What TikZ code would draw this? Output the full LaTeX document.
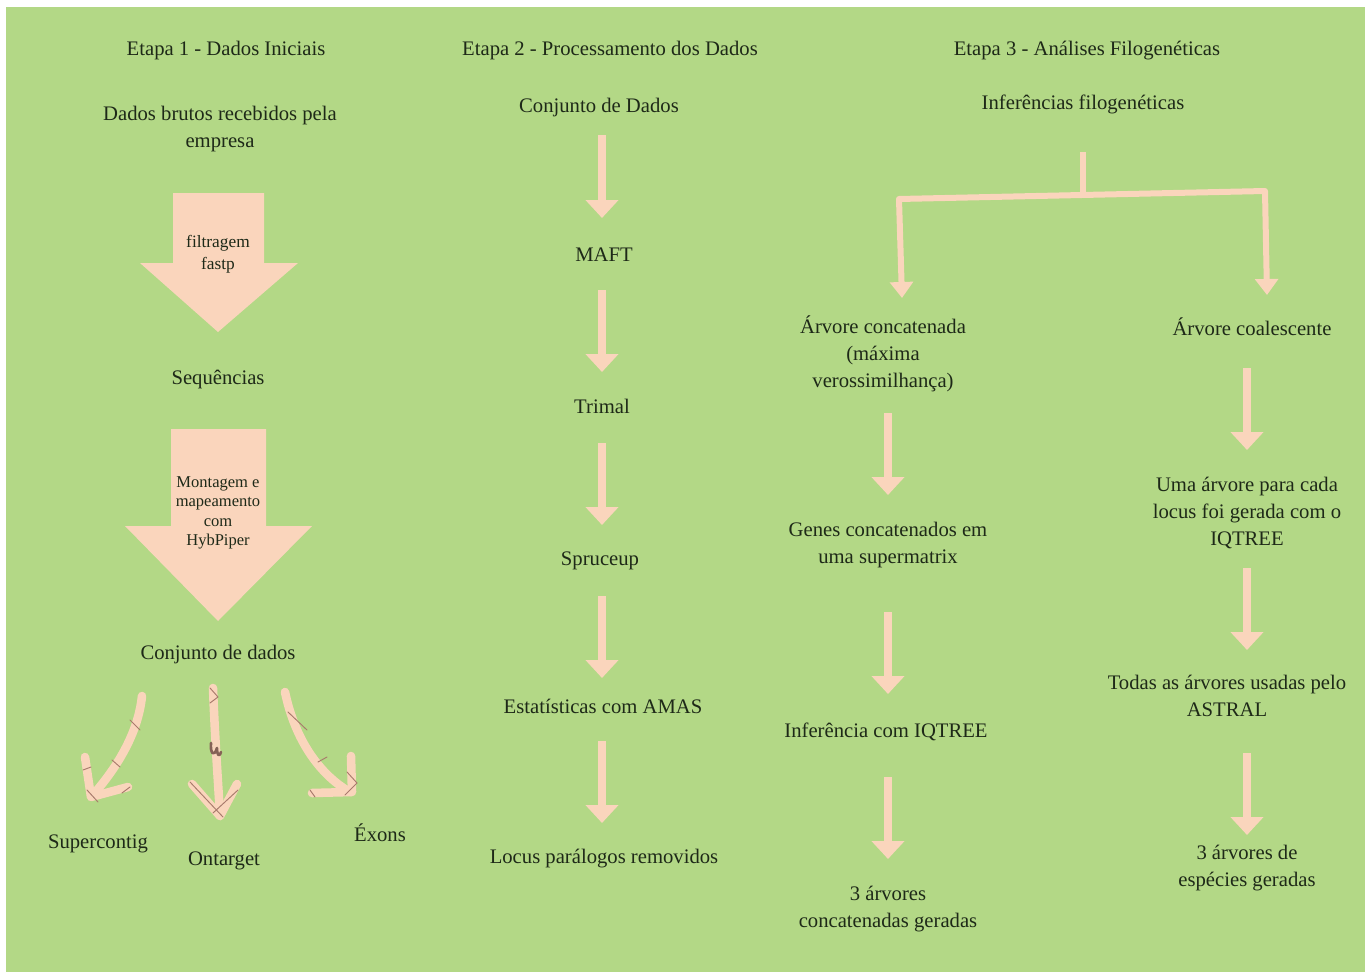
\documentclass[tikz,border=0pt]{standalone}
\usepackage{fontspec}
\setmainfont{Liberation Serif}
\usetikzlibrary{arrows.meta}
\definecolor{bg}{HTML}{B3D886}
\definecolor{peach}{HTML}{FAD5BC}
\definecolor{ink}{HTML}{1E2918}
\definecolor{tickc}{HTML}{A87A6C}
\begin{document}
\begin{tikzpicture}[x=0.75pt,y=-0.75pt,
 txt/.style={font=\fontsize{15.5pt}{20.25pt}\selectfont, text=ink, align=center, inner sep=0pt, yshift=-1.8pt},
 smalltxt/.style={font=\fontsize{13pt}{16.5pt}\selectfont, text=ink, align=center, inner sep=0pt, yshift=-1.5pt},
 tinytxt/.style={font=\fontsize{12.4pt}{14.6pt}\selectfont, text=ink, align=center, inner sep=0pt, yshift=-1.5pt},
 varrow/.style={draw=peach, line width=6pt, -{Triangle[width=24pt,length=13.5pt]}},
 brk/.style={draw=peach, line width=4.5pt, line join=round},
 brkarr/.style={brk, {Triangle[width=17pt,length=12pt]}-{Triangle[width=17pt,length=12pt]}},
 hand/.style={draw=peach, line width=6.4pt, line cap=round, line join=round},
 tickln/.style={draw=tickc, line width=0.7pt, line cap=round},
 block/.style={fill=peach}]
\useasboundingbox (0,0) rectangle (1365,974);
\fill[bg] (6,7) rectangle (1365,972);

% ---------- Column 1 ----------
\node[txt] (t1) at (226,48) {Etapa 1 - Dados Iniciais};
\node[txt] (d1) at (220,127) {Dados brutos recebidos pela\\empresa};
\fill[block] (173,193) -- (264,193) -- (264,263) -- (298,263) -- (218,332) -- (140,263) -- (173,263) -- cycle;
\node[smalltxt] (filt) at (218,252) {filtragem\\fastp};
\node[txt] (seq) at (218,377) {Sequências};
\fill[block] (171,429) -- (266,429) -- (266,526) -- (312,526) -- (218,621) -- (125,526) -- (171,526) -- cycle;
\node[tinytxt] (mont) at (218,511) {Montagem e\\mapeamento\\com\\HybPiper};
\node[txt] (cd) at (218,652) {Conjunto de dados};
\node[txt] (sc) at (98,841) {Supercontig};
\node[txt] (ot) at (224,858) {Ontarget};
\node[txt] (ex) at (380,830) {Éxons};

% hand drawn arrows
\draw[hand] (142,696) .. controls (138,735) and (115,770) .. (92,796);
\draw[hand] (85,757) -- (91,797) -- (128,787);
\draw[hand] (213,688) .. controls (215,740) and (218,780) .. (220,816);
\draw[hand] (192,784) -- (220,816) -- (237,784);
\draw[hand] (285,692) .. controls (295,740) and (320,775) .. (350,792);
\draw[hand] (351,756) -- (352,792) -- (312,793);
% ticks
\draw[tickln] (130,720) -- (140,730);
\draw[tickln] (112,760) -- (120,767);
\draw[tickln] (83,770) -- (91,767);
\draw[tickln] (87,790) -- (98,802);
\draw[tickln] (122,793) -- (130,787);
\draw[tickln] (210,688) -- (218,697) -- (210,703);
\draw[tickln] (190,782) -- (223,817);
\draw[tickln] (238,790) -- (213,813);
\draw[draw=tickc!80!black, line width=2pt, line cap=round, line join=round] (211,743) .. controls (210,753) and (214,758) .. (217,748) .. controls (217,755) and (219,758) .. (221,752);
\draw[tickln] (288,712) -- (307,730);
\draw[tickln] (318,762) -- (327,757);
\draw[tickln] (347,772) -- (357,783);
\draw[tickln] (310,790) -- (315,797);
\draw[tickln] (345,795) -- (357,783);

% ---------- Column 2 ----------
\node[txt] (t2) at (610,48) {Etapa 2 - Processamento dos Dados};
\node[txt] (c2a) at (599,105) {Conjunto de Dados};
\node[txt] (maft) at (604,252) {MAFT};
\node[txt] (trim) at (602,404) {Trimal};
\node[txt] (spr) at (600,558) {Spruceup};
\node[txt] (ama) at (603,704) {Estatísticas com AMAS};
\node[txt] (loc) at (604,856) {Locus parálogos removidos};
\coordinate (x2) at (602,0);
\draw[varrow, shorten <=20.7pt, shorten >=27.3pt] (x2 |- c2a) -- (x2 |- maft);
\draw[varrow, shorten <=26.7pt, shorten >=25.8pt] (x2 |- maft) -- (x2 |- trim);
\draw[varrow, shorten <=27.45pt, shorten >=26.55pt] (x2 |- trim) -- (x2 |- spr);
\draw[varrow, shorten <=26.7pt, shorten >=21.3pt] (x2 |- spr) -- (x2 |- ama);
\draw[varrow, shorten <=25.95pt, shorten >=26.55pt] (x2 |- ama) -- (x2 |- loc);

% ---------- Column 3 ----------
\node[txt] (t3) at (1087,48) {Etapa 3 - Análises Filogenéticas};
\node[txt] (inf) at (1083,102) {Inferências filogenéticas};
\node[txt] (ac) at (883,351) {Árvore concatenada\\(máxima\\verossimilhança)};
\node[txt] (gc) at (888,543) {Genes concatenados em\\uma supermatrix};
\node[txt] (iq) at (886,729) {Inferência com IQTREE};
\node[txt] (tr3) at (888,907) {3 árvores\\concatenadas geradas};
\node[txt] (aco) at (1252,324) {Árvore coalescente};
\node[txt] (uma) at (1247,511) {Uma árvore para cada\\locus foi gerada com o\\IQTREE};
\node[txt] (tod) at (1227,694) {Todas as árvores usadas pelo\\ASTRAL};
\node[txt] (esp) at (1247,866) {3 árvores de\\espécies geradas};

\coordinate (brj) at (1083,192);
\coordinate (bl) at (899,199);
\coordinate (brr) at (1265,191);
\coordinate (blt) at (902,298);
\coordinate (brt) at (1267,295);
\draw[brk, shorten <=35.7pt] (inf.center) -- (brj);
\draw[brkarr] (blt) -- (bl) -- (brr) -- (brt);

\coordinate (x3l) at (888,0);
\coordinate (x3r) at (1247,0);
\draw[varrow, shorten <=44.7pt, shorten >=37.8pt] (x3l |- ac) -- (x3l |- gc);
\draw[varrow, shorten <=49.95pt, shorten >=28.05pt] (x3l |- gc) -- (x3l |- iq);
\draw[varrow, shorten <=34.2pt, shorten >=37.8pt] (x3l |- iq) -- (x3l |- tr3);
\draw[varrow, shorten <=31.2pt, shorten >=47.55pt] (x3r |- aco) -- (x3r |- uma);
\draw[varrow, shorten <=40.95pt, shorten >=34.8pt] (x3r |- uma) -- (x3r |- tod);
\draw[varrow, shorten <=42.45pt, shorten >=25.05pt] (x3r |- tod) -- (x3r |- esp);
\end{tikzpicture}
\end{document}
